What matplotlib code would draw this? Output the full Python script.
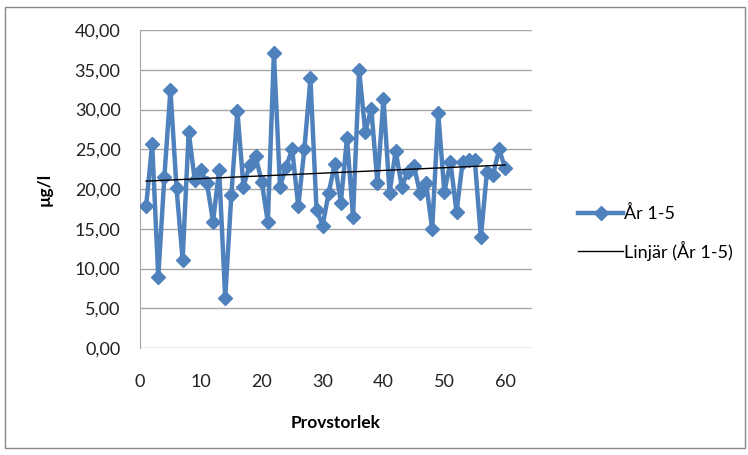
import matplotlib
matplotlib.use("Agg")
import matplotlib.pyplot as plt
from matplotlib.patches import Rectangle
import numpy as np

# sample number (Provstorlek) and measured concentration
prov = list(range(1, 61))
halt = [17.8, 25.7, 8.9, 21.5, 32.5, 20.1, 11.1, 27.2, 21.1, 22.4,
        20.7, 15.9, 22.4, 6.3, 19.2, 29.8, 20.3, 23.0, 24.1, 20.9,
        15.8, 37.1, 20.3, 22.8, 25.0, 17.8, 25.0, 33.9, 17.4, 15.4,
        19.5, 23.2, 18.3, 26.4, 16.5, 35.0, 27.2, 30.1, 20.8, 31.3,
        19.5, 24.8, 20.3, 22.2, 22.9, 19.5, 20.7, 15.0, 29.5, 19.6,
        23.4, 17.1, 23.4, 23.7, 23.7, 13.9, 22.2, 21.8, 25.0, 22.6]
yticks = [0, 5, 10, 15, 20, 25, 30, 35, 40]
xticks = [0, 10, 20, 30, 40, 50, 60]

plt.rcParams['font.family'] = ['Lato', 'DejaVu Sans']

fig = plt.figure(figsize=(7.48, 4.55), dpi=100)
ax = fig.add_axes([140/748, 1-348/455, 392/748, 318/455])

blue = '#4F81BD'
ax.plot(prov, halt, color=blue, lw=3.2, marker='D', ms=7.5,
        label='År 1-5', zorder=3)

# linear trendline
k, m = np.polyfit(prov, halt, 1)
xs = np.array([prov[0], prov[-1]])
ax.plot(xs, k*xs + m, color='black', lw=1, label='Linjär (År 1-5)', zorder=4)

ax.set_xlim(0, 64.4)
ax.set_ylim(0, 40)
ax.set_xticks(xticks)
ax.set_yticks(yticks)
ax.set_yticklabels([('%.2f' % v).replace('.', ',') for v in yticks])
ax.grid(axis='y', color='#a6a6a6', lw=1)
ax.set_axisbelow(True)
for s in ['top', 'right', 'bottom']:
    ax.spines[s].set_visible(False)
ax.spines['left'].set_color('#a6a6a6')
ax.tick_params(length=0, labelsize=13, colors='#222222')
ax.tick_params(axis='y', pad=14)
ax.tick_params(axis='x', pad=19)

ax.set_xlabel('Provstorlek', fontsize=12.5, fontweight='bold', labelpad=18)
ax.set_ylabel('µg/l', fontsize=12.5, fontweight='bold', labelpad=16)

fig.legend(loc='center left', bbox_to_anchor=(562/748, 1-233/455),
           frameon=False, fontsize=13, handlelength=2.5, handletextpad=0.05,
           labelspacing=1.0)

# chart area border
fig.patches.append(Rectangle((5/748, 7/455), 740/748, 441/455,
                             transform=fig.transFigure, fill=False,
                             edgecolor='#888888', lw=1))

plt.savefig('out.png', dpi=100)
